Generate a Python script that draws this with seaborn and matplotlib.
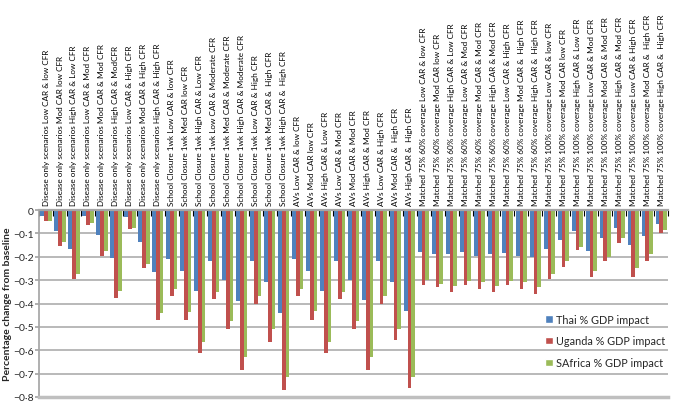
import numpy as np
import pandas as pd
import matplotlib
matplotlib.use("Agg")
import matplotlib.pyplot as plt
import seaborn as sns
from matplotlib.ticker import FixedLocator, FuncFormatter
from matplotlib.patches import Patch

scenarios = [
    "Disease only scenarios Low CAR & low CFR",
    "Disease only scenarios Mod CAR low CFR",
    "Disease only scenarios High CAR & Low CFR",
    "Disease only scenarios Low CAR & Mod CFR",
    "Disease only scenarios Mod CAR & Mod CFR",
    "Disease only scenarios High CAR & ModCFR",
    "Disease only scenarios Low CAR & High CFR",
    "Disease only scenarios Mod CAR & High CFR",
    "Disease only scenarios High CAR & High CFR",
    "School Closure 1wk Low CAR & low CFR",
    "School Closure 1wk Med CAR low CFR",
    "School Closure 1wk High CAR & Low CFR",
    "School Closure 1wk Low CAR & Moderate CFR",
    "School Closure 1wk Med CAR & Moderate CFR",
    "School Closure 1wk High CAR & Moderate CFR",
    "School Closure 1wk Low CAR & High CFR",
    "School Closure 1wk Med CAR &  High CFR",
    "School Closure 1wk High CAR &  High CFR",
    "AVs Low CAR & low CFR",
    "AVs Mod CAR low CFR",
    "AVs High CAR & Low CFR",
    "AVs Low CAR & Mod CFR",
    "AVs Mod CAR & Mod CFR",
    "AVs High CAR & Mod CFR",
    "AVs Low CAR & High CFR",
    "AVs Mod CAR &  High CFR",
    "AVs High CAR &  High CFR",
    "Matched 75% 60% coverage Low CAR & low CFR",
    "Matched 75% 60% coverage Mod CAR low CFR",
    "Matched 75% 60% coverage High CAR & Low CFR",
    "Matched 75% 60% coverage Low CAR & Mod CFR",
    "Matched 75% 60% coverage Mod CAR & Mod CFR",
    "Matched 75% 60% coverage High CAR & Mod CFR",
    "Matched 75% 60% coverage Low CAR & High CFR",
    "Matched 75% 60% coverage Mod CAR &  High CFR",
    "Matched 75% 60% coverage High CAR &  High CFR",
    "Matched 75% 100% coverage Low CAR & low CFR",
    "Matched 75% 100% coverage Mod CAR low CFR",
    "Matched 75% 100% coverage High CAR & Low CFR",
    "Matched 75% 100% coverage Low CAR & Mod CFR",
    "Matched 75% 100% coverage Mod CAR & Mod CFR",
    "Matched 75% 100% coverage High CAR & Mod CFR",
    "Matched 75% 100% coverage Low CAR & High CFR",
    "Matched 75% 100% coverage Mod CAR &  High CFR",
    "Matched 75% 100% coverage High CAR &  High CFR",
]

thai = [-0.025, -0.09, -0.165, -0.025, -0.105, -0.205, -0.03, -0.135, -0.265,
        -0.21, -0.26, -0.345, -0.22, -0.30, -0.39, -0.22, -0.31, -0.44,
        -0.21, -0.26, -0.345, -0.22, -0.30, -0.385, -0.22, -0.31, -0.43,
        -0.18, -0.19, -0.19, -0.18, -0.195, -0.19, -0.185, -0.195, -0.20,
        -0.165, -0.13, -0.09, -0.175, -0.12, -0.075, -0.15, -0.11, -0.06]
uganda = [-0.045, -0.155, -0.295, -0.065, -0.195, -0.375, -0.08, -0.25, -0.47,
          -0.37, -0.47, -0.61, -0.38, -0.51, -0.685, -0.40, -0.565, -0.77,
          -0.37, -0.47, -0.61, -0.38, -0.51, -0.685, -0.40, -0.555, -0.76,
          -0.32, -0.33, -0.35, -0.32, -0.34, -0.35, -0.32, -0.34, -0.36,
          -0.295, -0.245, -0.17, -0.285, -0.22, -0.14, -0.285, -0.22, -0.10]
safrica = [-0.045, -0.135, -0.275, -0.055, -0.175, -0.345, -0.075, -0.23, -0.44,
           -0.34, -0.435, -0.565, -0.35, -0.475, -0.63, -0.37, -0.51, -0.715,
           -0.34, -0.43, -0.565, -0.35, -0.475, -0.63, -0.37, -0.51, -0.715,
           -0.30, -0.315, -0.325, -0.305, -0.31, -0.325, -0.305, -0.31, -0.33,
           -0.275, -0.22, -0.16, -0.26, -0.20, -0.12, -0.25, -0.19, -0.085]

series_names = ["Thai % GDP impact", "Uganda % GDP impact", "SAfrica % GDP impact"]
colors = ["#4F81BD", "#C0504D", "#9BBB59"]

df = pd.DataFrame({
    "scenario": scenarios * 3,
    "series": np.repeat(series_names, len(scenarios)),
    "value": thai + uganda + safrica,
})

sns.set_theme(style="white")
plt.rcParams["font.family"] = ["Lato", "DejaVu Sans"]

fig = plt.figure(figsize=(6.73, 4.06), dpi=100)
ax = fig.add_axes([0.058, 0.02, 0.935, 0.46])
sns.barplot(data=df, x="scenario", y="value", hue="series", order=scenarios,
            hue_order=series_names, palette=colors, saturation=1, width=0.8,
            linewidth=0, ax=ax, legend=False)

ax.set_xlim(-0.5, len(scenarios) - 0.5)
ax.set_ylim(-0.8, 0)
ax.set_yticks(np.arange(-0.8, 0.01, 0.1))
ax.yaxis.set_major_formatter(FuncFormatter(
    lambda v, p: "0" if abs(v) < 1e-9 else "\u22120\u00b7%d" % round(-v * 10)))
ax.yaxis.grid(True, color="#a6a6a6", lw=1.1)
ax.set_axisbelow(True)

ax.xaxis.tick_top()
ax.set_xticks(range(len(scenarios)))
ax.set_xticklabels(scenarios, rotation=90, fontsize=5.9, color="black")
ax.xaxis.set_minor_locator(FixedLocator(np.arange(-0.5, len(scenarios), 1)))
ax.tick_params(axis="x", which="major", length=0, pad=4)
ax.tick_params(axis="x", which="minor", top=True, bottom=False,
               direction="in", length=4, width=0.8, color="black")
ax.tick_params(axis="y", left=True, length=3, color="#a6a6a6",
               labelsize=7.5, pad=1)
ax.set_xlabel("")

ax.spines["right"].set_visible(False)
ax.spines["left"].set_color("#a6a6a6")
ax.spines["top"].set_color("#a6a6a6")
ax.spines["top"].set_linewidth(1.6)
ax.spines["bottom"].set_color("#bfbfbf")
ax.spines["bottom"].set_linewidth(2.5)

ax.set_ylabel("Percentage change from baseline", fontweight="bold", fontsize=7.5)
ax.yaxis.set_label_coords(-0.043, 0.5)

handles = [Patch(facecolor=c, label=n) for c, n in zip(colors, series_names)]
ax.legend(handles=handles, loc="upper left", bbox_to_anchor=(0.81, 0.225),
          bbox_transform=fig.transFigure, frameon=False, fontsize=7.8,
          labelspacing=1.0, handlelength=0.7, handleheight=0.7,
          handletextpad=0.3, borderpad=0, borderaxespad=0)

fig.savefig("out.png", dpi=100)
